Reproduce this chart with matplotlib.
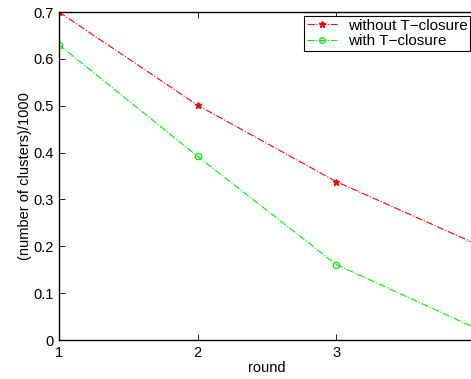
import numpy as np
import matplotlib.pyplot as plt

rounds = [1, 2, 3, 4]
without_tc = [0.700, 0.501, 0.338, 0.206]
with_tc = [0.630, 0.392, 0.161, 0.026]

x_ticks = [1, 2, 3]
y_ticks = [0, 0.1, 0.2, 0.3, 0.4, 0.5, 0.6, 0.7]
y_tick_labels = ["0", "0.1", "0.2", "0.3", "0.4", "0.5", "0.6", "0.7"]


def main():
    plt.rc("font", family=["Liberation Sans", "DejaVu Sans"], size=10)

    W, H = 471, 379
    fig = plt.figure(figsize=(W / 100, H / 100), dpi=100)
    # axes run to x=4 just past the right edge of the (cropped) figure
    left, right, top, bottom = 59, 475, 12, 340
    ax = fig.add_axes([left / W, 1 - bottom / H, (right - left) / W, (bottom - top) / H])

    ax.plot(rounds, without_tc, "-.", color="#ff0000", marker="*", markersize=5,
            linewidth=0.8, label="without T\u2212closure")
    ax.plot(rounds, with_tc, "-.", color="#00ee00", marker="o", markersize=4.5,
            markerfacecolor="none", markeredgewidth=0.9, linewidth=0.8,
            label="with T\u2212closure")

    ax.set_xlim(1, 4)
    ax.set_ylim(0, 0.7)
    ax.set_xticks(x_ticks)
    ax.set_yticks(y_ticks)
    ax.set_yticklabels(y_tick_labels)
    ax.tick_params(direction="in", length=4, width=0.6, top=True, right=False,
                   labelsize=10.5, pad=4)
    for s in ax.spines.values():
        s.set_linewidth(1.0)
        s.set_color("black")

    ax.set_xlabel("round", fontsize=10.5, labelpad=1)
    ax.set_ylabel("(number of clusters)/1000", fontsize=10.5, labelpad=1)

    leg = ax.legend(loc="upper right", fancybox=False, framealpha=1,
                    edgecolor="black", fontsize=11, handlelength=2.0,
                    borderpad=0.15, labelspacing=0.1, handletextpad=0.7,
                    borderaxespad=0.0, markerscale=0.9)
    leg.set_bbox_to_anchor((470 / W, 1 - 16.5 / H), transform=fig.transFigure)
    leg.get_frame().set_linewidth(0.8)

    fig.savefig("out.png", dpi=100)


if __name__ == "__main__":
    main()
